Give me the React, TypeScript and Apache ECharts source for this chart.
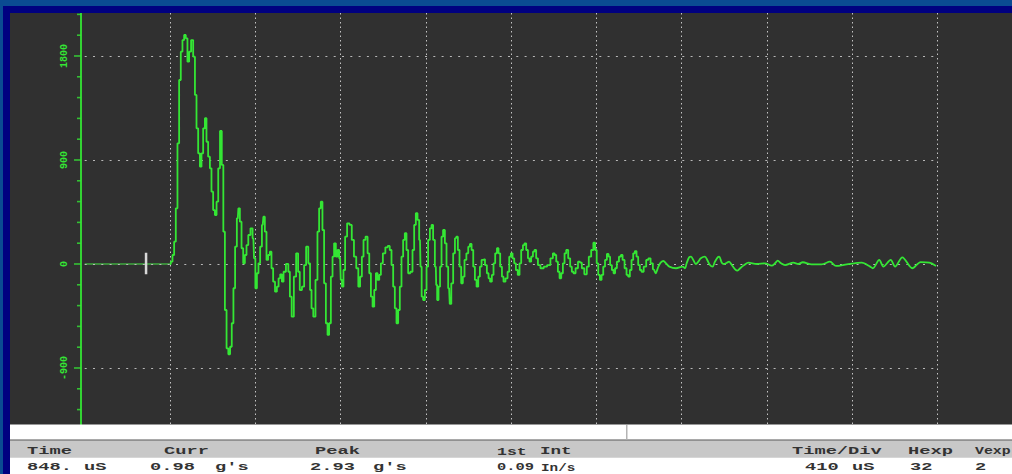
import React, { useEffect, useRef } from 'react';
import * as echarts from 'echarts';

// ---- data (time in µs, acceleration in display units) ----
const timePerDivUs = 410;
const divisionCount = 10;
const yMin = -1389;
const yMax = 2172;
const majorTicks = [-900, 0, 900, 1800];
const minorTicks = [-1260, -1080, -720, -540, -360, -180, 180, 360, 540, 720, 1080, 1260, 1440, 1620, 1980, 2160];

const preTrigger: number[][] = [[0, 0], [410, 0], [418, 20]];

const impactPulse: number[][] = [
  [410, 0], [418, 20], [426, 78], [434, 193], [442, 482], [450, 1044], [458, 1592], [466, 1837], [474, 1938],
  [482, 1982], [490, 1953], [498, 1751], [506, 1837], [517, 1938], [526, 1794], [534, 1463], [541, 1174],
  [550, 958], [558, 842], [565, 958], [574, 1174], [582, 1261], [589, 1058], [598, 929], [606, 828],
  [613, 626], [622, 467], [630, 424], [638, 539], [646, 828], [655, 1151], [663, 857], [670, 280],
  [678, -398], [686, -730], [695, -781], [703, -716], [711, -513], [719, -210], [727, 150], [736, 395],
  [742, 482], [750, 366], [758, 136],
];

const earlyRinging: number[][] = [
  [766, 6], [774, 78], [782, 164], [791, 251], [803, 309], [811, 222], [817, 49], [824, -210],
  [832, -80], [839, 6], [848, 150], [856, 338], [862, 409], [870, 280], [878, 35], [886, 78],
  [894, 107], [902, -37], [910, -153], [920, -240], [928, -196], [936, -124], [944, -89], [952, -153],
  [960, -67], [975, 0], [983, -67], [990, -283], [1000, -456], [1011, -110], [1022, 92], [1030, -67],
  [1038, -225], [1051, -196], [1059, -9], [1070, 150], [1080, 6], [1087, -225], [1094, -384], [1104, -456],
  [1115, -138], [1123, 280], [1131, 482], [1139, 539], [1147, 294], [1155, -167], [1164, -513], [1171, -614],
  [1179, -513], [1188, -110], [1195, 63], [1203, 179], [1212, 63], [1219, 121], [1228, 49], [1234, -138],
  [1240, -196], [1248, -52], [1256, 236], [1267, 352], [1279, 338], [1289, 208], [1300, 63], [1311, -37],
  [1320, -196], [1328, -110], [1337, 63], [1344, 208], [1356, 236], [1364, 92], [1372, -80], [1380, -283],
  [1388, -369], [1396, -225], [1404, -80], [1412, -138], [1420, -95], [1428, 6], [1439, 92], [1452, 144],
  [1462, 156], [1471, 121], [1479, -9], [1487, -196], [1495, -384], [1503, -513], [1511, -398], [1519, -196],
  [1527, 63], [1535, 208], [1543, 266], [1551, 121], [1559, -80],
];

const midRinging: number[][] = [
  [1572, -67], [1580, 121], [1588, 338], [1596, 439], [1604, 381], [1612, 208], [1617, -23], [1623, -283],
  [1631, -312], [1640, -225], [1647, -23], [1655, 208], [1664, 309], [1671, 338], [1679, 208], [1688, -23],
  [1692, -182], [1697, -312], [1705, -196], [1712, -23], [1719, 236], [1727, 294], [1736, 179], [1743, -23],
  [1752, -210], [1758, -346], [1767, -167], [1776, 92], [1784, 222], [1790, 236], [1798, 121], [1806, -23],
  [1814, -167], [1822, -110], [1830, 35], [1840, 92], [1848, 150], [1856, 173], [1864, 121], [1872, -23],
  [1880, -138], [1888, -196], [1896, -110], [1904, -23], [1912, 35], [1920, 40], [1929, -9], [1938, -80],
  [1945, -124], [1953, -153], [1962, -95], [1969, 6], [1978, 92], [1986, 136], [1993, 92], [2002, -23],
  [2010, -110], [2017, -153], [2029, -124], [2037, -67], [2045, 63], [2053, 92], [2061, 49], [2069, 6],
  [2077, -52], [2087, -95], [2094, 6], [2103, 121], [2111, 164], [2118, 179], [2127, 121], [2135, 49],
  [2142, 20], [2151, 63], [2159, 107], [2166, 121], [2175, 49], [2183, -9], [2199, -37], [2215, -23],
  [2231, -9], [2247, 49], [2255, 92], [2263, 78], [2271, 20], [2279, -67], [2287, -124], [2295, -80],
  [2303, 6], [2311, 92], [2319, 121], [2330, 49], [2338, -23], [2346, -67], [2354, -80], [2366, -37],
  [2377, 20], [2386, 11], [2394, -37], [2410, -89], [2418, -23], [2429, 63], [2441, 121], [2450, 184],
  [2458, 121], [2465, 6], [2473, -95], [2481, -138], [2489, -95], [2497, -23], [2506, 35], [2515, 87],
  [2522, 63], [2530, -9], [2539, -52], [2546, -80], [2554, -37], [2563, 20], [2574, 63], [2582, 78],
  [2590, 35], [2601, -37], [2609, -95], [2617, -110], [2625, -52], [2633, 35], [2641, 92], [2649, 112],
  [2657, 63], [2665, -9], [2673, -52], [2681, -67], [2694, -23], [2705, 35], [2715, 49], [2726, 6],
  [2737, -46],
];

const tailDecay: number[][] = [
  [2737, -46], [2745, -80], [2758, -23], [2769, 11], [2782, 26], [2795, 6], [2811, -23], [2843, -37], [2875, -23],
  [2886, -37], [2894, 6], [2906, 58], [2915, 63], [2926, 35], [2938, 0], [2950, 20], [2962, 49],
  [2982, 63], [2993, 35], [3006, -9], [3019, -23], [3030, 20], [3043, 58], [3051, 63], [3063, 11],
  [3074, 0], [3087, 11], [3098, 20], [3111, -9], [3127, -46], [3138, -58], [3154, -32], [3171, -9],
  [3191, 11], [3231, 0], [3271, 6], [3303, -15], [3319, 6], [3332, 29], [3348, 6], [3367, -9],
  [3407, 11], [3431, 0], [3452, 15], [3495, -3], [3543, -3], [3583, 20], [3612, -17], [3664, -3],
  [3736, 11], [3776, -23], [3789, -37], [3820, 35], [3840, -23], [3875, 35], [3896, -23], [3931, 58],
  [3979, -37], [4019, 17], [4061, 11], [4093, -17],
];

const cursorMark: number[][] = [[295, 98], [295, -89]];

const headerLabels = ['Time', 'Curr', 'Peak', '1st', 'Int', 'Time/Div', 'Hexp', 'Vexp'];
const valueLabels = ['848.', 'uS', '0.98', "g's", '2.93', "g's", '0.09', 'In/s', '410', 'uS', '32', '2'];

// layout (pixels) for the status panel texts
const headerX = [27, 164, 315, 497, 540, 792, 908, 975];
const headerScale = [1.7, 1.7, 1.7, 1.5, 1.6, 1.7, 1.7, 1.35];
const valueX = [27, 84, 150, 215, 310, 373, 497, 541, 805, 852, 910, 975];
const valueScale = [1.7, 1.7, 1.7, 1.7, 1.7, 1.7, 1.4, 1.3, 1.7, 1.7, 1.7, 1.7];

const GREEN = '#34e634';
const DIM_GREEN = '#3fa83f';
const MONO = "'Liberation Mono', 'DejaVu Sans Mono', monospace";

export default function App() {
  const ref = useRef<HTMLDivElement>(null);

  useEffect(() => {
    if (!ref.current) return;
    const chart = echarts.init(ref.current, undefined, { renderer: 'svg' });

    const denseTrace = [...impactPulse, ...earlyRinging, ...midRinging];

    const panelText = (text: string, x: number, y: number, sx: number) => ({
      type: 'text',
      x,
      y,
      scaleX: sx,
      z: 110,
      style: {
        text,
        font: `bold 11px ${MONO}`,
        fill: '#333333',
        verticalAlign: 'middle',
        align: 'left',
      },
    });

    const graphics: any[] = [
      { type: 'rect', z: 100, shape: { x: 0, y: 0, width: 1012, height: 6 }, style: { fill: '#0a4b92' } },
      { type: 'rect', z: 100, shape: { x: 0, y: 0, width: 3, height: 474 }, style: { fill: '#0a4b92' } },
      { type: 'rect', z: 100, shape: { x: 3, y: 6, width: 1009, height: 7 }, style: { fill: '#000080' } },
      { type: 'rect', z: 100, shape: { x: 3, y: 6, width: 7, height: 468 }, style: { fill: '#000080' } },
      { type: 'rect', z: 100, shape: { x: 10, y: 424.5, width: 1002, height: 49.5 }, style: { fill: '#ffffff' } },
      { type: 'rect', z: 101, shape: { x: 10, y: 439.5, width: 1002, height: 1.2 }, style: { fill: '#555555' } },
      { type: 'rect', z: 101, shape: { x: 10, y: 440.7, width: 1002, height: 17 }, style: { fill: '#c8c8c8' } },
      { type: 'rect', z: 101, shape: { x: 626, y: 425, width: 1.5, height: 14.5 }, style: { fill: '#b4b4b4' } },
      ...headerLabels.map((t, i) => panelText(t, headerX[i], 451.5, headerScale[i])),
      ...valueLabels.map((t, i) => panelText(t, valueX[i], 467.5, valueScale[i])),
    ];

    const tickSeries = (values: number[], len: number) => ({
      type: 'scatter',
      xAxisIndex: 1,
      yAxisIndex: 1,
      clip: false,
      silent: true,
      symbol: 'rect',
      symbolSize: [len, 1.6],
      symbolOffset: [-len / 2, 0],
      itemStyle: { color: GREEN },
      data: values.map((v) => [0, v]),
      z: 7,
    });

    chart.setOption({
      animation: false,
      backgroundColor: '#303030',
      grid: [
        { left: 84.7, right: 74.5, top: 13, bottom: 49.5, containLabel: false, outerBoundsMode: 'none' },
        { left: 81, right: 927.3, top: 13, bottom: 49.5, containLabel: false, outerBoundsMode: 'none' },
      ],
      xAxis: [
        {
          type: 'value',
          gridIndex: 0,
          min: 0,
          max: timePerDivUs * divisionCount,
          interval: timePerDivUs,
          axisLine: { show: false },
          axisTick: { show: false },
          axisLabel: { show: false },
          splitLine: {
            show: true,
            showMinLine: false,
            lineStyle: { color: '#c4c4c4', width: 1, type: [1.5, 3] },
          },
        },
        {
          type: 'value',
          gridIndex: 1,
          min: 0,
          max: 1,
          show: false,
        },
      ],
      yAxis: [
        {
          type: 'value',
          gridIndex: 0,
          min: yMin,
          max: yMax,
          show: false,
          splitLine: { show: false },
        },
        {
          type: 'value',
          gridIndex: 1,
          min: yMin,
          max: yMax,
          position: 'left',
          axisLine: { show: true, lineStyle: { color: GREEN, width: 1.8 } },
          axisTick: { show: false },
          axisLabel: {
            customValues: majorTicks,
            formatter: (v: number) => String(v),
            rotate: 90,
            color: GREEN,
            fontFamily: MONO,
            fontWeight: 'bold',
            fontSize: 10,
            margin: 12,
          },
          splitLine: { show: false },
        },
      ],
      series: [
        {
          type: 'line',
          data: [],
          z: 1,
          markLine: {
            silent: true,
            symbol: ['none', 'none'],
            label: { show: false },
            lineStyle: { color: '#b8b8b8', width: 1, type: [2, 6.3] },
            data: majorTicks.map((v) => ({ yAxis: v })),
          },
        },
        {
          type: 'line',
          data: preTrigger.slice(0, 2),
          showSymbol: false,
          lineStyle: { color: DIM_GREEN, width: 1.5 },
          z: 4,
        },
        {
          type: 'line',
          data: denseTrace,
          showSymbol: false,
          step: 'middle',
          lineStyle: { color: GREEN, width: 1.8 },
          z: 5,
        },
        {
          type: 'line',
          data: tailDecay,
          showSymbol: false,
          smooth: 0.3,
          lineStyle: { color: GREEN, width: 1.8 },
          z: 5,
        },
        {
          type: 'line',
          data: cursorMark,
          showSymbol: false,
          lineStyle: { color: '#d8d8d8', width: 2.5 },
          z: 6,
        },
        tickSeries(majorTicks, 7),
        tickSeries(minorTicks, 4),
      ],
      graphic: { elements: graphics },
    });

    return () => chart.dispose();
  }, []);

  return (
    <div
      ref={ref}
      style={{ position: 'absolute', left: 0, top: 0, width: 1012, height: 474 }}
    />
  );
}
